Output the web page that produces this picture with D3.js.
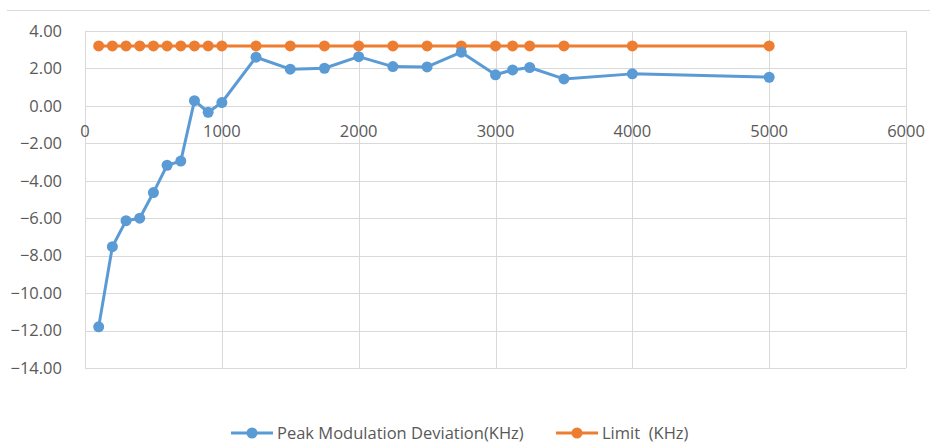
<!DOCTYPE html>
<html><head><meta charset="utf-8">
<script src="https://cdn.jsdelivr.net/npm/d3@7"></script>
<style>body{margin:0;background:#fff}svg{display:block}text{font-family:"Open Sans","Noto Sans",sans-serif;fill:#595959;white-space:pre}</style>
</head><body>
<svg id="c" width="930" height="447"></svg>
<script>
const freqs = [100,200,300,400,500,600,700,800,900,1000,1250,1500,1750,2000,2250,2500,2750,3000,3125,3250,3500,4000,5000];
const peakDeviation = [-11.8,-7.52,-6.13,-6.0,-4.63,-3.17,-2.95,0.28,-0.34,0.18,2.6,1.96,2.01,2.63,2.1,2.08,2.87,1.66,1.92,2.05,1.44,1.71,1.53];
const limitValues = [3.2,3.2,3.2,3.2,3.2,3.2,3.2,3.2,3.2,3.2,3.2,3.2,3.2,3.2,3.2,3.2,3.2,3.2,3.2,3.2,3.2,3.2,3.2];
const xTicks = [0,1000,2000,3000,4000,5000,6000];
const yTicks = [4,2,0,-2,-4,-6,-8,-10,-12,-14];
const seriesNames = ["Peak Modulation Deviation(KHz)", "Limit  (KHz)"];
const colors = ["#5b9bd5", "#ed7d31"];

const svg = d3.select("#c");
const x = d3.scaleLinear().domain([0,6000]).range([85,906]);
const y = d3.scaleLinear().domain([-14,4]).range([368,31]);
const grid = "#d9d9d9";
const fs = 16.5;

svg.append("line").attr("x1",7).attr("x2",930).attr("y1",10.5).attr("y2",10.5).attr("stroke",grid).attr("stroke-width",1);

// gridlines
svg.append("g").selectAll("line").data(yTicks).join("line")
  .attr("x1",x(0)).attr("x2",x(6000)).attr("y1",d=>Math.round(y(d))+0.5).attr("y2",d=>Math.round(y(d))+0.5)
  .attr("stroke",grid).attr("stroke-width",1);
svg.append("g").selectAll("line").data(xTicks).join("line")
  .attr("y1",y(4)).attr("y2",y(-14)).attr("x1",d=>Math.round(x(d))+0.5).attr("x2",d=>Math.round(x(d))+0.5)
  .attr("stroke",grid).attr("stroke-width",1);

// y labels
svg.append("g").selectAll("text").data(yTicks).join("text")
  .attr("x",62).attr("y",d=>y(d)).attr("dy","0.35em").attr("text-anchor","end")
  .attr("font-size",fs).text(d=>d3.format(".2f")(d));
// x labels
svg.append("g").selectAll("text").data(xTicks).join("text")
  .attr("x",d=>x(d)).attr("y",y(0)+31).attr("text-anchor","middle")
  .attr("font-size",fs).text(d=>d);

const seriesData = [peakDeviation, limitValues];
const line = d3.line().x(d=>x(d[0])).y(d=>y(d[1]));
seriesData.slice().reverse().forEach((vals,ri)=>{
  const i = seriesData.length-1-ri;
  const pts = freqs.map((f,j)=>[f,vals[j]]);
  svg.append("path").datum(pts).attr("d",line).attr("fill","none")
    .attr("stroke",colors[i]).attr("stroke-width",3).attr("stroke-linejoin","round");
  svg.append("g").selectAll("circle").data(pts).join("circle")
    .attr("cx",d=>x(d[0])).attr("cy",d=>y(d[1])).attr("r",5.5).attr("fill",colors[i]);
});

// legend
const legX = [231, 556];
seriesNames.forEach((n,i)=>{
  const g = svg.append("g").attr("transform",`translate(${legX[i]},433)`);
  g.append("line").attr("x1",0).attr("x2",42).attr("stroke",colors[i]).attr("stroke-width",3);
  g.append("circle").attr("cx",21).attr("r",5.5).attr("fill",colors[i]);
  g.append("text").attr("x",46).attr("dy","0.35em").attr("font-size",fs).text(n);
});
</script>
</body></html>
